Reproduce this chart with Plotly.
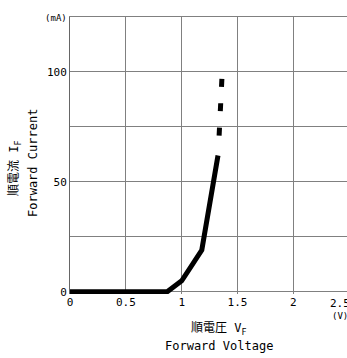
import plotly.graph_objects as go

# Forward voltage vs forward current characteristic
vf_measured = [0.0, 0.87, 1.0, 1.18, 1.325]
if_measured = [0.0, 0.0, 5.0, 19.0, 62.0]
vf_extrapolated = [1.335, 1.36]
if_extrapolated = [71.0, 97.0]

x_tick_vals = [0, 0.5, 1, 1.5, 2]
x_tick_text = ["0", "0.5", "1", "1.5", "2"]
y_tick_vals = [0, 25, 50, 75, 100, 125]
y_tick_text = ["0", "", "50", "", "100", "<span style='font-size:9px'>(mA)</span>"]

W, H = 347, 358
L, R, T, B = 70, 0, 17, 64
PW, PH = W - L - R, H - T - B

FONT = "DejaVu Sans Mono, Noto Sans CJK JP"
GRID = "#808080"


def px(x):
    return (x - L) / PW


def py(y):
    return (H - B - y) / PH


fig = go.Figure()
fig.add_trace(go.Scatter(
    x=vf_measured, y=if_measured, mode="lines",
    line=dict(color="black", width=5), showlegend=False,
))
# dashed extrapolation lives on the top-side twin axis, which also frames the top edge
fig.add_trace(go.Scatter(
    x=vf_extrapolated, y=if_extrapolated, mode="lines", xaxis="x2",
    line=dict(color="black", width=5, dash="8px,16.5px"), showlegend=False,
))

fig.update_layout(
    width=W, height=H,
    margin=dict(l=L, r=R, t=T, b=B),
    paper_bgcolor="white", plot_bgcolor="white",
    font=dict(family=FONT, size=11, color="black"),
    xaxis=dict(
        range=[0, 2.48], tickvals=x_tick_vals, ticktext=x_tick_text,
        showgrid=True, gridcolor=GRID, gridwidth=1,
        zeroline=False, showline=False, ticks="",
        tickfont=dict(size=11),
    ),
    xaxis2=dict(
        overlaying="x", matches="x", side="top",
        showline=True, linecolor=GRID, linewidth=1,
        showgrid=False, zeroline=False, ticks="", showticklabels=False,
    ),
    yaxis=dict(
        range=[-1, 125], tickvals=y_tick_vals, ticktext=y_tick_text,
        showgrid=True, gridcolor=GRID, gridwidth=1,
        zeroline=True, zerolinecolor=GRID, zerolinewidth=1,
        showline=True, linecolor="#666666", linewidth=1, ticks="",
        tickfont=dict(size=11),
    ),
)

annotations = [
    dict(text="順電流 I<sub>F</sub>", x=px(15), y=py(168), textangle=-90, size=12),
    dict(text="Forward Current", x=px(33), y=py(163), textangle=-90, size=12),
    dict(text="順電圧 V<sub>F</sub>", x=px(219), y=py(329), textangle=0, size=12),
    dict(text="Forward Voltage", x=px(219), y=py(346), textangle=0, size=12),
    dict(text="2.5", x=px(340), y=py(303), textangle=0, size=11),
    dict(text="(V)", x=px(340), y=py(316), textangle=0, size=9),
]
for a in annotations:
    fig.add_annotation(
        text=a["text"], x=a["x"], y=a["y"], xref="paper", yref="paper",
        xanchor="center", yanchor="middle", textangle=a["textangle"],
        showarrow=False, font=dict(family=FONT, size=a["size"], color="black"),
    )

fig.write_html("out.html")
